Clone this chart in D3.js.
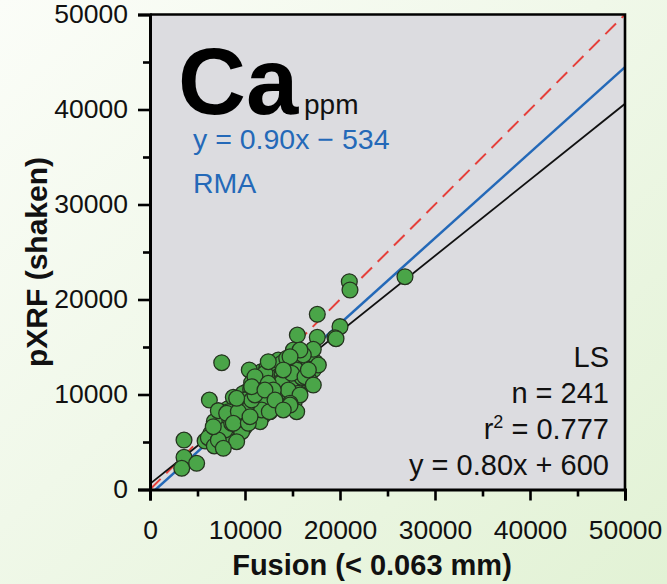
<!DOCTYPE html>
<html>
<head>
<meta charset="utf-8">
<script src="https://cdn.jsdelivr.net/npm/d3@7"></script>
<style>
  html, body { margin: 0; padding: 0; background: #fff; }
  svg { display: block; font-family: "Liberation Sans", Arial, sans-serif; }
</style>
</head>
<body>
<svg id="chart" width="667" height="584"></svg>
<script>
// Ca (ppm): fusion (< 0.063 mm) versus pXRF on shaken samples
const fusion = [
  // core of the cloud
  8600, 8900, 9100, 9300, 8800, 9400, 9000, 8700, 9500, 9200,
  9600, 9800, 10100, 10300, 9700, 10400, 9900, 10200, 10000, 10500, 9800, 10300,
  10600, 10800, 11000, 11200, 10700, 11400, 10900, 11300, 11100, 10600, 11500, 11000, 11300, 10800,
  11600, 11800, 12000, 12200, 11700, 12400, 11900, 12300, 12100, 11600, 12500, 11800, 12200, 12000, 12400, 11500,
  12600, 12800, 13000, 13200, 12700, 13400, 12900, 13100, 13300, 12600, 13500, 12800, 13000, 13200, 13400, 12900,
  13600, 13800, 14000, 14200, 13700, 14400, 13900, 14100, 14300, 13600, 14500, 13800, 14000, 14200, 14400, 13700,
  14600, 14800, 15000, 15200, 14700, 15400, 14900, 15100, 15300, 14600, 15500, 14800, 15000, 15200, 15400,
  15600, 15800, 16000, 16200, 15700, 16400, 15900, 16100, 16300, 15600, 16500, 15800,
  16600, 16800, 17000, 17200, 16700, 17400, 16900,
  7400, 7800, 8100, 8300, 7600, 8000, 8400, 7300, 8200, 7900,
  6400, 6800, 5800, 6900,
  9500, 10100, 10700, 11300, 11900, 12300, 12700, 13300, 13900, 14500, 15100, 15700, 16300,
  12100, 11400, 13600, 14100, 15300, 10400, 9700, 12900, 13700, 14800, 16000, 11200,
  // edge of the cloud and outliers
  7550, 3580, 3580, 3340, 4910, 6250, 6140, 6770, 6770, 7190,
  8770, 10450, 10700, 9650, 8070, 8950, 10000, 11230, 12630, 11580,
  12630, 13860, 15440, 15610, 15260, 15790, 13510, 12100, 10350, 7890,
  7190, 9120, 7720, 13160, 14210, 14560, 13860, 14910, 12100, 11750,
  10700, 10000, 8600, 6660, 8240, 11050, 12450, 26840, 20980, 21050,
  17610, 20000, 19470, 19580, 15510, 17610, 17190, 16140, 17720, 15090,
  12450, 16320, 17190, 15790, 12980, 12560, 14740, 16670, 14390,
  8070, 11050, 9300, 8770, 10350, 10700, 12100, 13160, 14740, 15790,
  14740, 14030, 9120, 10530, 14030
];
const pxrf = [
  7400, 8100, 6700, 8800, 6300, 7600, 9100, 8600, 6900, 7900,
  8200, 7000, 8800, 7700, 9300, 9900, 6500, 10300, 8000, 7200, 10100, 8500,
  8000, 9100, 7600, 10600, 10000, 8800, 11500, 9500, 8300, 10500, 7900, 11000, 12000, 7300,
  9800, 10800, 8900, 11500, 12400, 10000, 7800, 12800, 10300, 11200, 9200, 9000, 8500, 11800, 12300, 10400,
  10900, 9600, 11800, 12600, 12000, 10200, 8700, 13000, 11400, 9900, 12100, 11300, 10600, 9000, 13400, 12700,
  10800, 12000, 11200, 13000, 9800, 11800, 13300, 10000, 12400, 12600, 10900, 11500, 9500, 11700, 13100, 10400,
  11500, 12700, 10700, 13200, 10100, 11600, 13500, 12100, 10400, 12900, 13000, 9700, 11900, 9300, 12400,
  11200, 12600, 13400, 11900, 13800, 12800, 10800, 12300, 13600, 10500, 11500, 14200,
  13100, 12100, 13900, 12600, 11600, 13400, 14300,
  6200, 7000, 6600, 7700, 5700, 5900, 6900, 6800, 8500, 7600,
  5900, 6200, 5100, 5400,
  8500, 9500, 8700, 11300, 11100, 9700, 10300, 11800, 12200, 12100, 11000, 12000, 12600,
  12000, 10000, 11200, 12700, 12700, 8200, 7700, 10000, 13000, 11300, 11800, 9200,
  13350, 5210, 3390, 2230, 2760, 9420, 5450, 4580, 7140, 8300,
  9700, 12580, 11240, 6080, 5210, 7320, 9420, 10130, 8190, 7140,
  13280, 11240, 8190, 10130, 12760, 14160, 13630, 12230, 8370, 6260,
  5210, 5030, 4340, 9770, 9070, 10470, 13280, 12230, 9420, 8370,
  9420, 7320, 6970, 6610, 8190, 11870, 11180, 22400, 21870, 21000,
  18440, 17140, 15980, 15870, 16260, 16020, 14760, 14160, 13100, 14680,
  13450, 11870, 11000, 9950, 10470, 8190, 9070, 12580, 13810,
  8020, 9950, 8190, 6970, 6970, 10820, 10470, 9420, 8890, 14680,
  13980, 12580, 9600, 7660, 8370
];

// regression lines: 1:1, reduced major axis, least squares
const oneToOne = { slope: 1, intercept: 0 };
const rma = { slope: 0.90, intercept: -534 };
const ls = { slope: 0.80, intercept: 600 };

const majorTicks = [0, 10000, 20000, 30000, 40000, 50000];
const minorTicks = [5000, 15000, 25000, 35000, 45000];

const statLines = ["LS", "n = 241", "r2", "y = 0.80x + 600"];

const svg = d3.select("#chart");
const W = 667, H = 584;
const plot = { left: 150, right: 625, top: 14.5, bottom: 489.5 };

const x = d3.scaleLinear().domain([0, 50000]).range([plot.left, plot.right]);
const y = d3.scaleLinear().domain([0, 50000]).range([plot.bottom, plot.top]);

// page background
const defs = svg.append("defs");
const bg = defs.append("linearGradient").attr("id", "bg")
  .attr("x1", "0").attr("y1", "0").attr("x2", "1").attr("y2", "1");
bg.append("stop").attr("offset", "0%").attr("stop-color", "#fbfdf8");
bg.append("stop").attr("offset", "45%").attr("stop-color", "#f0f8e9");
bg.append("stop").attr("offset", "100%").attr("stop-color", "#e2f2d5");
svg.append("rect").attr("width", W).attr("height", H).attr("fill", "url(#bg)");

defs.append("clipPath").attr("id", "clip")
  .append("rect")
  .attr("x", plot.left).attr("y", plot.top)
  .attr("width", plot.right - plot.left).attr("height", plot.bottom - plot.top);

// plot panel
svg.append("rect")
  .attr("x", plot.left).attr("y", plot.top)
  .attr("width", plot.right - plot.left).attr("height", plot.bottom - plot.top)
  .attr("fill", "#dcdce0");

// fit lines
const lineLayer = svg.append("g").attr("clip-path", "url(#clip)");
function drawFit(fit, color, width, dash) {
  const xs = [0, 50000];
  lineLayer.append("line")
    .attr("x1", x(xs[0])).attr("y1", y(fit.slope * xs[0] + fit.intercept))
    .attr("x2", x(xs[1])).attr("y2", y(fit.slope * xs[1] + fit.intercept))
    .attr("stroke", color).attr("stroke-width", width)
    .attr("stroke-dasharray", dash || null);
}
drawFit(oneToOne, "#e5403b", 2, "15 8");
drawFit(rma, "#2469b8", 2.5);
drawFit(ls, "#111", 1.8);

// sample points
const pts = fusion.map((f, i) => ({ f, p: pxrf[i] }));
svg.append("g").attr("clip-path", "url(#clip)")
  .selectAll("circle").data(pts).enter().append("circle")
  .attr("cx", d => x(d.f)).attr("cy", d => y(d.p)).attr("r", 7.9)
  .attr("fill", "#4aa548").attr("stroke", "#25331f").attr("stroke-width", 1.3);

// top and right frame
svg.append("path")
  .attr("d", `M${plot.left},${plot.top}H${plot.right}V${plot.bottom}`)
  .attr("fill", "none").attr("stroke", "#000").attr("stroke-width", 2.6);

// axes
function styleAxis(g) {
  g.selectAll("path.domain").attr("stroke", "#000").attr("stroke-width", 3);
  g.selectAll(".tick line").attr("stroke", "#000").attr("stroke-width", 2.6);
  g.selectAll(".tick text").attr("fill", "#111")
    .style("font-family", "'Liberation Sans', Arial, sans-serif").style("font-size", "26.5px");
}
const yMajor = svg.append("g").attr("transform", `translate(${plot.left},0)`)
  .call(d3.axisLeft(y).tickValues(majorTicks).tickSize(12).tickPadding(10).tickFormat(d3.format("d")));
styleAxis(yMajor);
const yMinor = svg.append("g").attr("transform", `translate(${plot.left},0)`)
  .call(d3.axisLeft(y).tickValues(minorTicks).tickSize(7).tickFormat(""));
styleAxis(yMinor);
yMinor.select("path.domain").remove();

const xMajor = svg.append("g").attr("transform", `translate(0,${plot.bottom})`)
  .call(d3.axisBottom(x).tickValues(majorTicks).tickSize(11).tickPadding(20).tickFormat(d3.format("d")));
styleAxis(xMajor);
const xMinor = svg.append("g").attr("transform", `translate(0,${plot.bottom})`)
  .call(d3.axisBottom(x).tickValues(minorTicks).tickSize(7).tickFormat(""));
styleAxis(xMinor);
xMinor.select("path.domain").remove();

// axis titles
svg.append("text")
  .attr("x", 372).attr("y", 575)
  .attr("text-anchor", "middle")
  .attr("font-weight", "bold").attr("font-size", 29).attr("fill", "#111")
  .text("Fusion (< 0.063 mm)");
svg.append("text")
  .attr("transform", "translate(47,262) rotate(-90)")
  .attr("text-anchor", "middle")
  .attr("font-weight", "bold").attr("font-size", 30).attr("fill", "#111")
  .text("pXRF (shaken)");

// element label
svg.append("text")
  .attr("x", 178).attr("y", 114)
  .attr("font-weight", "bold").attr("font-size", 94).attr("fill", "#000")
  .text("Ca");
svg.append("text")
  .attr("x", 304).attr("y", 114)
  .attr("font-size", 28).attr("fill", "#111")
  .text("ppm");

// RMA equation
svg.append("text")
  .attr("x", 193).attr("y", 149)
  .attr("font-size", 28.5).attr("fill", "#2469b8")
  .text(`y = ${rma.slope.toFixed(2)}x \u2212 ${Math.abs(rma.intercept)}`);
svg.append("text")
  .attr("x", 193).attr("y", 193)
  .attr("font-size", 28.5).attr("fill", "#2469b8")
  .text("RMA");

// least-squares statistics
const statY = [367, 403, 439, 475];
statLines.forEach((s, i) => {
  const t = svg.append("text")
    .attr("x", 609).attr("y", statY[i])
    .attr("text-anchor", "end")
    .attr("font-size", 29).attr("fill", "#111");
  if (s === "r2") {
    t.append("tspan").text("r");
    t.append("tspan").attr("font-size", 18).attr("dy", -11).text("2");
    t.append("tspan").attr("dy", 11).text(" = 0.777");
  } else {
    t.text(s);
  }
});
</script>
</body>
</html>
